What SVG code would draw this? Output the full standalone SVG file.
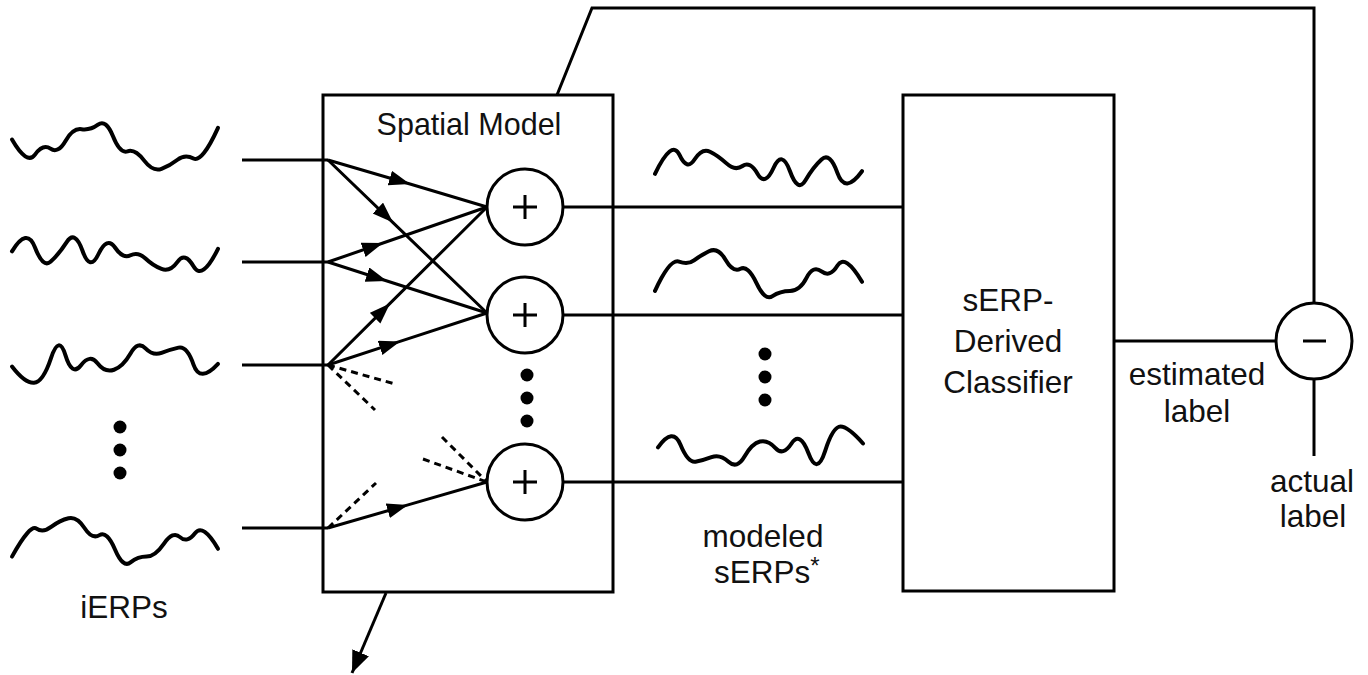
<svg xmlns="http://www.w3.org/2000/svg" width="1368" height="675" viewBox="0 0 1368 675">
<style>
.ln{fill:none;stroke:#000;stroke-width:3;stroke-linecap:butt}
.dash{fill:none;stroke:#000;stroke-width:3;stroke-dasharray:7,5}
.wave{fill:none;stroke:#000;stroke-width:4;stroke-linecap:round;stroke-linejoin:round;vector-effect:non-scaling-stroke}
.box{fill:#fff;stroke:#000;stroke-width:3}
.circ{fill:#fff;stroke:#000;stroke-width:3}
.sym{stroke:#000;stroke-width:3}
.dot{fill:#000}
text{font-family:"Liberation Sans",Arial,sans-serif;font-size:31.5px;fill:#111;text-anchor:middle}
</style>
<defs>
<marker id="ah" markerUnits="userSpaceOnUse" markerWidth="24" markerHeight="18" refX="21" refY="7.5" orient="auto">
<path d="M0,0 L21,7.5 L0,15 z" fill="#000"/>
</marker>
<marker id="ahe" markerUnits="userSpaceOnUse" markerWidth="26" markerHeight="20" refX="22" refY="9" orient="auto">
<path d="M0,0 L22,9 L0,18 z" fill="#000"/>
</marker>
</defs>
<rect width="1368" height="675" fill="#fff"/>

<g id="iERPs">
<g transform="translate(0,150) scale(1,1.3) translate(0,-150)">
<path class="wave" d="M12,142 Q27,162 35,153.5 Q43,145 50.5,149 Q58,153 65.5,143 Q73,133 81.5,134 Q90,135 98,130.5 Q106,126 113,139.5 Q120,153 127.5,151 Q135,149 144,158 Q153,167 161.5,164.5 Q170,162 177.5,157.5 Q185,153 193.5,156.5 Q202,160 218,133"/>
</g>
<g transform="translate(0,254) scale(1,1.3) translate(0,-254)">
<path class="wave" d="M12,252 Q27,233 35,249 Q43,265 50.5,260 Q58,255 66.5,245 Q75,235 82.5,251.5 Q90,268 98.5,254 Q107,240 115,249 Q123,258 130.5,255 Q138,252 145.5,257.5 Q153,263 161.5,265.5 Q170,268 177.5,260 Q185,252 193.5,263.5 Q202,275 218,250"/>
</g>
<g transform="translate(0,360) scale(1,1.3) translate(0,-360)">
<path class="wave" d="M12,365 Q25,378 34,377.5 Q43,377 51,358.5 Q59,340 65.5,356.5 Q72,373 81,364 Q90,355 97.5,362.5 Q105,370 114,367.5 Q123,365 130.5,355 Q138,345 145.5,351 Q153,357 161.5,354.5 Q170,352 178.5,350.5 Q187,349 193.5,363.5 Q200,378 218,363"/>
</g>
<g transform="translate(0,541) scale(1,1.3) translate(0,-541)">
<path class="wave" d="M12,553 Q30,528 36.5,531.5 Q43,535 51.5,530 Q60,525 68.5,523.5 Q77,522 84.5,531 Q92,540 99.5,536.5 Q107,533 115,547.5 Q123,562 130.5,557.5 Q138,553 146.5,553 Q155,553 164,543 Q173,533 180,538 Q187,543 195,535 Q203,527 218,547"/>
</g>
<circle class="dot" cx="120" cy="427" r="6.5"/>
<circle class="dot" cx="120" cy="450" r="6.5"/>
<circle class="dot" cx="120" cy="473" r="6.5"/>
<text x="124" y="618">iERPs</text>
</g>

<g id="spatial-model">
<rect class="box" x="323" y="95" width="290" height="497"/>
<text x="469" y="135" style="font-size:30.5px">Spatial Model</text>
</g>

<g id="sum1"><circle class="circ" cx="525" cy="207" r="38"/><path class="sym" d="M513,207 H537 M525,195 V219"/></g>
<g id="sum2"><circle class="circ" cx="525" cy="315" r="38"/><path class="sym" d="M513,315 H537 M525,303 V327"/></g>
<g id="sum3"><circle class="circ" cx="525" cy="482" r="38"/><path class="sym" d="M513,482 H537 M525,470 V494"/></g>
<g id="sum-dots">
<circle class="dot" cx="527" cy="375" r="6.5"/>
<circle class="dot" cx="527" cy="398" r="6.5"/>
<circle class="dot" cx="527" cy="421" r="6.5"/>
</g>

<g id="sERPs">
<g transform="translate(0,166) scale(1,1.3) translate(0,-166)">
<path class="wave" d="M655,172 Q672,145 679.5,157.5 Q687,170 694.5,161 Q702,152 710,155 Q718,158 726.5,164 Q735,170 742.5,166 Q750,162 757.5,172 Q765,182 773.5,167.5 Q782,153 790,170 Q798,187 805.5,177 Q813,167 821.5,161 Q830,155 837.5,171.5 Q845,188 862,170"/>
</g>
<g transform="translate(0,274) scale(1,1.3) translate(0,-274)">
<path class="wave" d="M655,287 Q670,262 679,264.5 Q688,267 694,263.5 Q700,260 709,256.5 Q718,253 725.5,263 Q733,273 740.5,270 Q748,267 756.5,281 Q765,295 772.5,291 Q780,287 790,287 Q800,287 806.5,277 Q813,267 821.5,272 Q830,277 837.5,267.5 Q845,258 862,280"/>
</g>
<g transform="translate(0,450) scale(1,1.3) translate(0,-450)">
<path class="wave" d="M658,448 Q673,432 680.5,446 Q688,460 695.5,459 Q703,458 711.5,455.5 Q720,453 728.5,459 Q737,465 744.5,455 Q752,445 760,443.5 Q768,442 775.5,448.5 Q783,455 791.5,445 Q800,435 808.5,452.5 Q817,470 825,451 Q833,432 840.5,432 Q848,432 863,445"/>
</g>
<circle class="dot" cx="765" cy="354" r="6.5"/>
<circle class="dot" cx="765" cy="377" r="6.5"/>
<circle class="dot" cx="765" cy="400" r="6.5"/>
<text x="763" y="547">modeled</text>
<text x="714" y="583" style="text-anchor:start">sERPs<tspan dy="-9" style="font-size:24px">*</tspan></text>
</g>

<g id="classifier">
<rect class="box" x="903" y="95" width="211" height="496"/>
<text x="1008" y="311">sERP-</text>
<text x="1008" y="352">Derived</text>
<text x="1008" y="393">Classifier</text>
</g>

<g id="subtract">
<circle class="circ" cx="1314" cy="341" r="38"/>
<path class="sym" d="M1303,341 H1326"/>
</g>

<g id="labels">
<text x="1197" y="385">estimated</text>
<text x="1197" y="422">label</text>
<text x="1312" y="492">actual</text>
<text x="1313" y="527">label</text>
</g>

<g id="connectors">
<path class="ln" d="M242,160 H328 M242,262 H328 M242,365 H328 M242,528 H328"/>
<polyline class="ln" points="328,160 410,184 487,207" marker-mid="url(#ah)"/>
<polyline class="ln" points="328,160 393,222.6 487,313" marker-mid="url(#ah)"/>
<polyline class="ln" points="328,262 383,243 487,207" marker-mid="url(#ah)"/>
<polyline class="ln" points="328,262 387,281 487,313" marker-mid="url(#ah)"/>
<polyline class="ln" points="328,365 390,303.4 487,207" marker-mid="url(#ah)"/>
<polyline class="ln" points="328,365 400,341.4 487,313" marker-mid="url(#ah)"/>
<polyline class="ln" points="328,528 408,504.9 487,482" marker-mid="url(#ah)"/>
<path class="dash" d="M328,365 L395,384 M328,365 L375,410 M328,528 L376,483 M442,437 L487,482 M423,459 L487,482"/>
<path class="ln" d="M563,207 H903 M563,315 H903 M563,482 H903"/>
<path class="ln" d="M1114,341 H1276"/>
<path class="ln" d="M1314,379 V456"/>
<path class="ln" d="M557,95 L592,8 H1314 V303"/>
<line class="ln" x1="386" y1="593" x2="352" y2="673" marker-end="url(#ahe)"/>
</g>
</svg>
